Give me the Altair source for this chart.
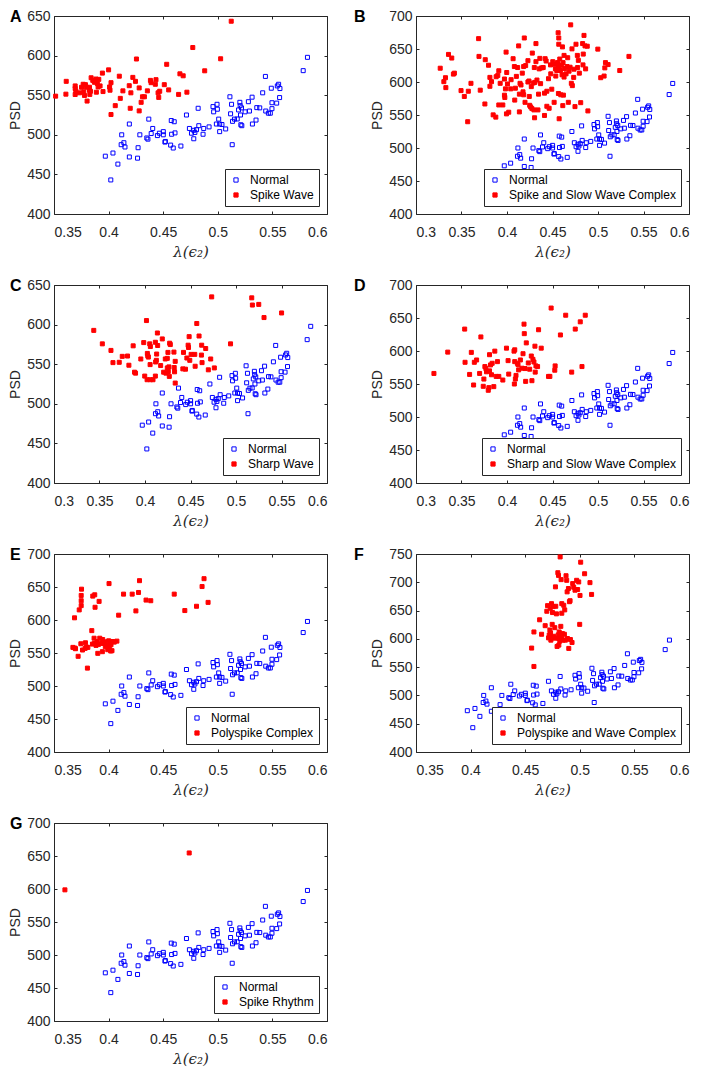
import altair as alt
import pandas as pd

# ---------------- data ----------------
NORMAL = [(0.397,473),(0.404,477),(0.402,443),(0.4085,463),(0.412,500),(0.4115,487.5),(0.414,490),(0.415,484.6),
          (0.419,513.6),(0.419,472),(0.427,483.7),(0.4265,470.5),(0.4286,500),(0.4368,519.8),(0.435,496),(0.436,494.5),
          (0.439,501.6),(0.4404,508),(0.4447,499),(0.4465,502),(0.4501,504),(0.4501,500),(0.452,491.6),(0.4516,490.8),
          (0.4574,518),(0.4577,500.7),(0.4568,487),(0.4601,516.5),(0.4608,502.4),(0.4592,483.3),(0.4662,485.8),(0.4713,525),
          (0.474,508),(0.4759,502),(0.478,505.7),(0.479,503),(0.4805,506.5),(0.482,533.5),(0.4826,511.5),(0.478,495),
          (0.4865,500.7),(0.4871,508),(0.492,510),(0.4956,535.6),(0.4962,529),(0.4987,513.6),(0.4993,538.5),(0.4996,532.3),
          (0.5008,519.8),(0.5017,513.6),(0.5017,504),(0.5038,513),(0.5072,507.4),(0.5111,548),(0.5117,526.5),(0.5126,538.5),
          (0.5135,517),(0.5132,487.5),(0.5153,519.8),(0.5178,520),(0.519,531.4),(0.5202,541),(0.5205,536.8),(0.5208,525),
          (0.5211,512.7),(0.5217,534),(0.522,511.5),(0.525,529),(0.529,530),(0.528,541.8),(0.5314,547.5),(0.5317,513.6),
          (0.535,518.6),(0.5357,534.3),(0.5384,534),(0.5411,553),(0.5436,573.7),(0.5439,530),(0.5463,527.3),(0.5481,527.3),
          (0.549,558.8),(0.5496,540.5),(0.5496,533),(0.5539,540),(0.5545,561.7),(0.5557,563.8),(0.5569,558.4),(0.5566,547),
          (0.5782,581),(0.5821,597.8)]

SPIKE_WAVE = [(0.3515,548.8),(0.3609,551.3),(0.3612,567.5),(0.3694,561.7),(0.3694,558.4),(0.3694,550.9),(0.37,555.5),
              (0.3734,553),(0.3752,560),(0.3767,563.8),(0.3773,554.2),(0.3779,549.7),(0.3788,563.3),(0.3797,560),(0.3803,542.6),
              (0.3825,560),(0.3825,556.3),(0.3828,551),(0.3834,555),(0.384,572),(0.3855,568.7),(0.387,566.3),(0.3885,570.4),
              (0.3888,553.8),(0.3897,564.6),(0.3904,560.4),(0.391,570),(0.3922,561.7),(0.3943,577.9),(0.3949,554.6),(0.4,582),
              (0.4009,560.4),(0.4013,556.3),(0.4022,565.8),(0.4022,525.6),(0.4061,536.8),(0.4098,574),(0.4107,546),(0.4131,555.5),
              (0.4189,562),(0.4198,533.5),(0.4204,553),(0.4222,572.5),(0.4246,567.5),(0.4255,595.7),(0.428,559.2),(0.428,530.2),
              (0.4298,541),(0.431,548),(0.4328,548),(0.4355,555.5),(0.4383,568.7),(0.4389,565.8),(0.4428,563.8),(0.4434,569.6),
              (0.4453,553),(0.4459,547.2),(0.4468,555),(0.451,563.3),(0.4532,589),(0.455,556.7),(0.4641,551),(0.4653,577),
              (0.4683,574.5),(0.4717,553.8),(0.4771,610.2),(0.488,580.8),(0.5026,596),(0.5123,643.4)]

SPIKE_SLOW = [(0.3266,620.9),(0.3306,600.5),(0.3324,606.5),(0.3328,591.5),(0.3357,641.8),(0.3393,636.3),(0.3411,612),
              (0.3422,613.4),(0.3495,587),(0.3531,578.1),(0.3568,539.8),(0.3575,586),(0.3604,598),(0.3688,665.7),(0.3692,638.8),
              (0.3706,587.6),(0.3761,633.8),(0.3757,566.7),(0.3797,625.4),(0.3812,607),(0.3812,593.5),(0.383,600.5),(0.3848,550.2),
              (0.3881,608),(0.3877,546.8),(0.391,617),(0.3899,610),(0.391,565.2),(0.3925,598),(0.3954,565.2),(0.3972,604.5),
              (0.3972,580),(0.3976,576.6),(0.3983,589.6),(0.399,645.3),(0.3997,614.4),(0.4005,597),(0.3994,551.7),(0.4019,554.2),
              (0.4041,589.6),(0.4045,603.5),(0.4067,635.3),(0.4081,623.4),(0.4085,572.6),(0.4092,590.6),(0.4103,608.5),
              (0.4117,621.9),(0.4128,654.7),(0.4136,581.6),(0.4136,554.7),(0.4143,598),(0.4154,595.5),(0.4168,613.4),
              (0.4176,585.1),(0.4183,580.6),(0.4183,623.4),(0.419,666.7),(0.4198,569.2),(0.4205,624.9),(0.423,600),(0.423,632.3),
              (0.4241,601.5),(0.4245,578.1),(0.4249,564.7),(0.426,562.2),(0.4267,593),(0.4274,559.7),(0.4278,643.8),(0.4289,598.5),
              (0.4296,557.7),(0.43,621.9),(0.4303,545.8),(0.4307,599.5),(0.4318,658.2),(0.4318,630.8),(0.4329,603),(0.434,557.7),
              (0.4347,581.6),(0.4354,619.9),(0.4361,635.8),(0.4369,597.5),(0.438,621.4),(0.4398,621.9),(0.4412,549.3),
              (0.4412,583.1),(0.4419,635.3),(0.443,631.8),(0.4438,586),(0.4438,563.2),(0.4456,605),(0.4463,560.2),(0.4478,625.9),
              (0.4481,612.4),(0.4492,589.1),(0.4503,630.8),(0.4518,569.2),(0.4522,626.9),(0.4532,619.9),(0.4536,609),
              (0.4547,617.4),(0.4554,629.4),(0.4562,626.4),(0.4562,674.6),(0.4569,666.7),(0.4569,657.2),(0.4565,582.6),
              (0.4573,623.4),(0.4573,544.3),(0.458,634.8),(0.4587,617.4),(0.4591,580.6),(0.4598,625.4),(0.4605,610.9),
              (0.4609,653.2),(0.4613,564.2),(0.4616,629.4),(0.462,580.1),(0.4627,640.3),(0.4627,607.5),(0.4634,620.4),
              (0.4649,612.4),(0.466,623.4),(0.4667,636.8),(0.4674,569.2),(0.4682,616.4),(0.4693,622.4),(0.47,686.6),(0.4707,598),
              (0.4714,650.2),(0.4718,594.5),(0.4733,607),(0.4736,619.4),(0.4747,562.7),(0.4758,657.2),(0.4773,640.3),
              (0.4776,621.9),(0.4784,632.8),(0.4795,613.4),(0.481,568.7),(0.4831,658.2),(0.4835,625.9),(0.4838,642.3),
              (0.4846,670.6),(0.4857,654.7),(0.4864,619.9),(0.4882,654.2),(0.4889,556.2),(0.4998,649.8),(0.503,606.5),
              (0.5067,609),(0.5075,621.4),(0.5082,629.4),(0.5111,626.4),(0.5239,617.4),(0.534,638.8)]

SHARP_WAVE = [(0.3437,592.7),(0.3531,575.7),(0.3626,567.4),(0.3648,552),(0.3717,552.4),(0.375,559.9),(0.3808,560.3),
              (0.3823,548.7),(0.387,573.2),(0.3885,539.9),(0.3896,538.7),(0.3954,556.6),(0.3986,577.3),(0.3997,535),
              (0.4016,605.1),(0.4023,530.4),(0.4026,563.6),(0.403,560.7),(0.4037,559),(0.4052,575.7),(0.4056,549.5),
              (0.4059,572.3),(0.4059,530.4),(0.4088,530.4),(0.4114,535),(0.4114,577.7),(0.4117,552.8),(0.4125,554.9),
              (0.4128,562.8),(0.4136,589.4),(0.4139,573.6),(0.4172,548.3),(0.419,581.9),(0.4205,539.9),(0.4223,556.6),
              (0.423,538.7),(0.4245,545.3),(0.4245,557.4),(0.4252,564.9),(0.4256,540.8),(0.4263,546.6),(0.4267,534.6),
              (0.4271,576.5),(0.4278,574.8),(0.4318,565.3),(0.4321,545.8),(0.4325,540.4),(0.4332,553.6),(0.4332,526.2),
              (0.4416,544.1),(0.4423,564.9),(0.4445,543.7),(0.446,557.8),(0.4474,574),(0.4478,571.1),(0.4485,584.8),
              (0.4492,554.9),(0.4507,562.4),(0.4547,562.4),(0.4551,547.4),(0.4569,601.4),(0.4594,585.6),(0.462,561.5),
              (0.4623,574),(0.4627,552),(0.4667,569.8),(0.4696,542.9),(0.4722,556.6),(0.4733,635),(0.4762,545.3),(0.494,575.7),
              (0.5173,633.8),(0.518,624.7),(0.525,625.5),(0.5308,608.9),(0.5501,614.7)]

SHARP_SLOW = [(0.3197,566),(0.3349,598.3),(0.3535,633.2),(0.3539,582.9),(0.3589,564.5),(0.3608,597.9),(0.3633,548.5),
              (0.3641,582.9),(0.3666,586.4),(0.3699,566),(0.3713,621.3),(0.3746,557.5),(0.3757,576.4),(0.3768,573.4),
              (0.3739,546.5),(0.3775,568.5),(0.3794,540.5),(0.3801,544.5),(0.3808,594.4),(0.3808,569.9),(0.3819,578.9),
              (0.383,564),(0.3837,581.4),(0.3855,546),(0.3866,599.8),(0.3881,561.5),(0.3895,583.9),(0.391,561.5),(0.3954,556),
              (0.3994,604.3),(0.4012,585.4),(0.4019,565),(0.4077,599.8),(0.4081,550),(0.4085,601.8),(0.4085,583.9),
              (0.4092,557.5),(0.4099,563),(0.4114,581.4),(0.4121,579.4),(0.4128,571.4),(0.4147,586.4),(0.4165,573.9),
              (0.4176,595.9),(0.4187,640.7),(0.419,626.3),(0.4198,573.4),(0.4205,554),(0.4212,612.3),(0.4234,581.9),
              (0.4249,572.4),(0.4267,592.4),(0.4274,555),(0.4285,587.4),(0.4296,583.4),(0.4307,607.3),(0.431,568),
              (0.4318,577.4),(0.4336,576.4),(0.4347,632.2),(0.4376,604.3),(0.4456,561.5),(0.4471,561.5),(0.4485,665.1),
              (0.4525,570.9),(0.4529,577.4),(0.4587,624.3),(0.4645,654.2),(0.4711,568),(0.475,633.2),(0.4805,644.2),
              (0.4824,576.4),(0.486,654.2)]

POLYSPIKE = [(0.3688,603.3),(0.3673,558.5),(0.3691,557.5),(0.3697,556.5),(0.3721,545),(0.3731,615.3),(0.3749,621.8),
             (0.3749,629.2),(0.3746,564),(0.3749,637.2),(0.3752,646.7),(0.3761,554.5),(0.3785,557),(0.3788,565.5),(0.3797,559),
             (0.3806,527.1),(0.381,558.5),(0.3846,583.9),(0.3852,563.5),(0.3855,636.2),(0.3867,572.4),(0.387,564.5),
             (0.3873,638.2),(0.3876,619.3),(0.3885,561.5),(0.3894,567.4),(0.3901,549.5),(0.3907,563),(0.3913,628.2),
             (0.3919,572.4),(0.3934,564.5),(0.3943,552),(0.3946,570.4),(0.3955,565),(0.3967,567),(0.397,559.5),(0.3979,561.5),
             (0.3992,555),(0.4001,568.5),(0.4004,655.2),(0.4007,559.5),(0.4013,566),(0.4019,553),(0.4022,562.5),(0.4031,553.5),
             (0.4037,567.4),(0.4052,566.5),(0.4076,568),(0.4092,607.3),(0.4137,639.2),(0.4216,639.2),(0.425,613.8),
             (0.4274,641.7),(0.4283,659.6),(0.4343,630.2),(0.4386,629.2),(0.4601,639.2),(0.4698,614.3),(0.4805,620.8),
             (0.4856,650.7),(0.4874,662.6),(0.4911,626.7)]

POLYSPIKE_WAVE = [(0.4559,583.7),(0.458,612.2),(0.458,551.2),(0.4632,633.7),(0.465,608.1),(0.4683,623.3),(0.4698,648.8),
                  (0.4705,658.7),(0.4714,601.7),(0.472,607),(0.4726,615.7),(0.4729,654.1),(0.4732,610.5),(0.4735,597.7),
                  (0.4741,662.2),(0.4747,625.6),(0.475,646.5),(0.4756,657),(0.4759,604.6),(0.4765,601.2),(0.4771,619.8),
                  (0.4777,691.9),(0.478,657.6),(0.4786,644.2),(0.4792,586.6),(0.4799,716.9),(0.4802,607),(0.4805,712.2),
                  (0.4805,600.6),(0.4808,589),(0.4811,612.2),(0.4814,603.5),(0.4817,596),(0.482,744.8),(0.4826,622.1),
                  (0.4829,704.7),(0.4832,601.2),(0.4835,662.2),(0.4835,645.3),(0.4841,609.3),(0.4847,597.7),(0.4853,659.3),
                  (0.4859,608.1),(0.4862,651.2),(0.4868,597.7),(0.4874,711.6),(0.488,703.5),(0.4884,683.1),(0.4887,600.6),
                  (0.4896,689),(0.4899,583.1),(0.4905,665.7),(0.4911,667.4),(0.4914,598.8),(0.4929,593.6),(0.4935,697.7),
                  (0.4944,691.3),(0.4956,686),(0.4971,703.5),(0.498,687.2),(0.499,700.6),(0.4999,625.6),(0.5002,676.7),
                  (0.5008,735.5),(0.5044,715.1),(0.5093,699.4),(0.5108,678.5)]

SPIKE_RHYTHM = [(0.36,598.7),(0.4738,654.6)]

X_TICKS_A = [0.35, 0.4, 0.45, 0.5, 0.55, 0.6]
X_TICKS_B = [0.3, 0.35, 0.4, 0.45, 0.5, 0.55, 0.6]
Y_TICKS_650 = [400, 450, 500, 550, 600, 650]
Y_TICKS_700 = [400, 450, 500, 550, 600, 650, 700]
Y_TICKS_750 = [400, 450, 500, 550, 600, 650, 700, 750]

PANELS = [
    ("A", "Spike Wave", SPIKE_WAVE, [0.35, 0.6], [400, 650], X_TICKS_A, Y_TICKS_650),
    ("B", "Spike and Slow Wave Complex", SPIKE_SLOW, [0.3, 0.6], [400, 700], X_TICKS_B, Y_TICKS_700),
    ("C", "Sharp Wave", SHARP_WAVE, [0.3, 0.6], [400, 650], X_TICKS_B, Y_TICKS_650),
    ("D", "Sharp and Slow Wave Complex", SHARP_SLOW, [0.3, 0.6], [400, 700], X_TICKS_B, Y_TICKS_700),
    ("E", "Polyspike Complex", POLYSPIKE, [0.35, 0.6], [400, 700], X_TICKS_A, Y_TICKS_700),
    ("F", "Polyspike and Wave Complex", POLYSPIKE_WAVE, [0.35, 0.6], [400, 750], X_TICKS_A, Y_TICKS_750),
    ("G", "Spike Rhythm", SPIKE_RHYTHM, [0.35, 0.6], [400, 700], X_TICKS_A, Y_TICKS_700),
]

W, H = 273, 198
INK = "#262626"
FONT = "Liberation Sans"
TICK = 3


def panel(i, letter, label, pts, xdom, ydom, xticks, yticks):
    rows = [{"x": x, "y": y, "cls": "Normal"} for x, y in NORMAL]
    rows += [{"x": x, "y": y, "cls": label} for x, y in pts]
    df = pd.DataFrame(rows)
    dom = ["Normal", label]
    xs = alt.Scale(domain=xdom, nice=False, zero=False)
    ys = alt.Scale(domain=ydom, nice=False, zero=False)
    leg = alt.Legend(title=None, orient="bottom-right", offset=8, strokeColor=INK, fillColor="white",
                     padding=5, symbolType="square", symbolSize=18, symbolStrokeWidth=1,
                     labelFontSize=12, labelFont=FONT, labelColor="black", rowPadding=3,
                     labelOffset=8, cornerRadius=0, symbolOpacity=1, labelLimit=300)
    pts_layer = alt.Chart(df).mark_point(shape="square", size=16, strokeWidth=1, opacity=1).encode(
        x=alt.X("x:Q", scale=xs, axis=alt.Axis(orient="bottom", values=xticks, format="~g", title="λ(ϵ₂)",
                                              titleFont="DejaVu Serif", titleFontStyle="italic",
                                              titleFontWeight="normal", titleFontSize=15, titlePadding=5,
                                              offset=-TICK, tickSize=TICK, domain=False, grid=False,
                                              labelPadding=11)),
        y=alt.Y("y:Q", scale=ys, axis=alt.Axis(orient="left", values=yticks, title="PSD", titleFont=FONT,
                                              titleFontWeight="normal", titleFontSize=14, titlePadding=4,
                                              offset=-TICK, tickSize=TICK, domain=False, grid=False,
                                              labelPadding=4)),
        stroke=alt.Stroke("cls:N", scale=alt.Scale(domain=dom, range=["#0000ff", "#ff0000"]), legend=leg),
        fill=alt.Fill("cls:N", scale=alt.Scale(domain=dom, range=["transparent", "#ff0000"]), legend=leg),
    )
    frame = alt.Chart(df).mark_point(opacity=0).encode(
        x=alt.X("x:Q", scale=xs, axis=alt.Axis(orient="top", values=xticks, labels=False, title=None,
                                              offset=-TICK, tickSize=TICK, domain=False, grid=False)),
        y=alt.Y("y:Q", scale=ys, axis=alt.Axis(orient="right", values=yticks, labels=False, title=None,
                                              offset=-TICK, tickSize=TICK, domain=False, grid=False)),
    )
    dx = -44 if i % 2 == 0 else -62
    tag = alt.Chart(pd.DataFrame({"t": [letter]})).mark_text(
        align="left", baseline="middle", fontSize=16, fontWeight="bold", font=FONT, color="black"
    ).encode(text="t:N", x=alt.value(dx), y=alt.value(1))
    return alt.layer(pts_layer, frame, tag).resolve_axis(x="independent", y="independent").properties(
        width=W, height=H)


charts = [panel(i, *p) for i, p in enumerate(PANELS)]
chart = alt.concat(*charts, columns=2, spacing=alt.RowColnumber(row=71, column=89), bounds="flush").resolve_scale(
    stroke="independent", fill="independent"
).resolve_legend(stroke="independent", fill="independent").properties(
    padding=0, background="white"
).configure_view(stroke=INK, strokeWidth=1).configure_axis(
    labelFont=FONT, labelFontSize=14, labelColor=INK, titleColor=INK, tickColor=INK, tickWidth=1
)

chart.save("out.html", embed_options={"renderer": "svg", "actions": False})
